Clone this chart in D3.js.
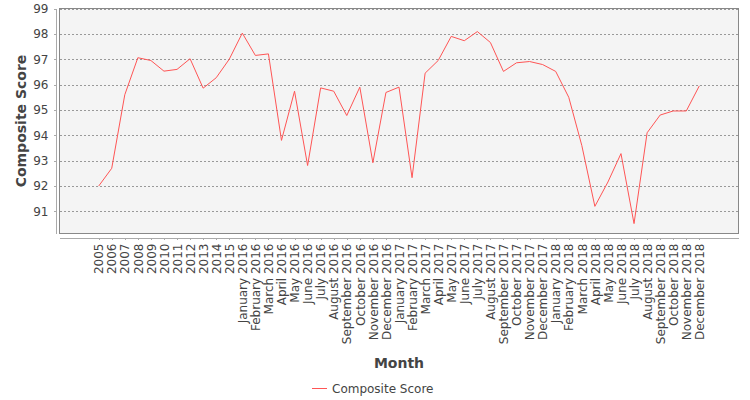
<!DOCTYPE html>
<meta charset="utf-8">
<style>
body {
  margin: 0;
  background-color: #ffffff;
  font-family: 'DejaVu Sans', sans-serif;
}
text {
  font-family: 'DejaVu Sans', sans-serif;
  fill: #444444;
}
.axis path,
.axis line {
  fill: none;
  stroke: #aaaaaa;
  stroke-width: 1px;
  shape-rendering: crispEdges;
}
.axis text {
  font-size: 12px;
  fill: #444444;
}
.grid line {
  stroke: #999999;
  stroke-width: 1px;
  stroke-dasharray: 2,2;
  shape-rendering: crispEdges;
}
.axis-title {
  font-size: 14px;
  font-weight: bold;
}
.line {
  fill: none;
  stroke: #ff5555;
  stroke-width: 1px;
}
</style>
<svg width="750" height="400"></svg>
<script src="https://d3js.org/d3.v7.min.js"></script>
<script>
var years = ["2005", "2006", "2007", "2008", "2009", "2010", "2011", "2012", "2013", "2014", "2015"];
var monthNames = ["January", "February", "March", "April", "May", "June", "July",
                  "August", "September", "October", "November", "December"];
var monthYears = ["2016", "2017", "2018"];

var scores = [92.0, 92.7, 95.6, 97.06, 96.95, 96.53, 96.6, 97.02, 95.86, 96.27, 97.0,
              98.03, 97.15, 97.21, 93.8, 95.74, 92.81, 95.87, 95.74, 94.78, 95.9, 92.92, 95.69,
              95.9, 92.33, 96.45, 96.95, 97.9, 97.73, 98.09, 97.66, 96.52, 96.86, 96.91, 96.79,
              96.52, 95.5, 93.6, 91.2, 92.16, 93.28, 90.52, 94.1, 94.8, 94.96, 94.96, 95.95];

var yTicks = [91, 92, 93, 94, 95, 96, 97, 98, 99];
var yDomain = [90.13, 99];

var categories = years.slice();
monthYears.forEach(function(yr) {
  monthNames.forEach(function(m) { categories.push(m + " " + yr); });
});

var data = categories.map(function(c, i) { return {month: c, value: scores[i]}; });

var svg = d3.select("svg"),
    plot = {left: 59.5, right: 738.5, top: 8.5, bottom: 233.5};

var x = d3.scalePoint()
    .domain(categories)
    .range([plot.left, plot.right])
    .padding(3);

var y = d3.scaleLinear()
    .domain(yDomain)
    .range([plot.bottom, plot.top]);

// plot background
svg.append("rect")
    .attr("x", plot.left)
    .attr("y", plot.top)
    .attr("width", plot.right - plot.left)
    .attr("height", plot.bottom - plot.top)
    .attr("fill", "#f4f4f4");

// horizontal grid
svg.append("g")
    .attr("class", "grid")
  .selectAll("line")
    .data(yTicks)
  .enter().append("line")
    .attr("x1", plot.left)
    .attr("x2", plot.right)
    .attr("y1", function(d) { return Math.round(y(d)) + 0.5; })
    .attr("y2", function(d) { return Math.round(y(d)) + 0.5; });

// plot border
svg.append("rect")
    .attr("x", plot.left)
    .attr("y", plot.top)
    .attr("width", plot.right - plot.left)
    .attr("height", plot.bottom - plot.top)
    .attr("fill", "none")
    .attr("stroke", "#888888")
    .attr("shape-rendering", "crispEdges");

// y axis, offset left of plot
svg.append("g")
    .attr("class", "y axis")
    .attr("transform", "translate(55.5,0)")
    .call(d3.axisLeft(y).tickValues(yTicks).tickSizeInner(2).tickSizeOuter(0).tickPadding(5));

// x axis, offset below plot
var xAxis = svg.append("g")
    .attr("class", "x axis")
    .attr("transform", "translate(0,237.5)")
    .call(d3.axisBottom(x).tickSizeInner(2).tickSizeOuter(0));

xAxis.selectAll("text")
    .attr("transform", "rotate(-90)")
    .attr("text-anchor", "end")
    .attr("x", -6)
    .attr("y", 0)
    .attr("dy", "0.35em");

var line = d3.line()
    .x(function(d) { return x(d.month); })
    .y(function(d) { return y(d.value); });

svg.append("path")
    .datum(data)
    .attr("class", "line")
    .attr("d", line);

// axis titles
svg.append("text")
    .attr("class", "axis-title")
    .attr("transform", "translate(26," + ((plot.top + plot.bottom) / 2) + ") rotate(-90)")
    .attr("text-anchor", "middle")
    .text("Composite Score");

svg.append("text")
    .attr("class", "axis-title")
    .attr("x", (plot.left + plot.right) / 2)
    .attr("y", 368)
    .attr("text-anchor", "middle")
    .text("Month");

// legend
var legend = svg.append("g")
    .attr("transform", "translate(312,388.5)");

legend.append("line")
    .attr("x1", 0)
    .attr("x2", 15)
    .attr("stroke", "#ff5555");

legend.append("text")
    .attr("x", 20)
    .attr("y", 0)
    .attr("dy", "0.35em")
    .style("font-size", "12px")
    .text("Composite Score");
</script>
